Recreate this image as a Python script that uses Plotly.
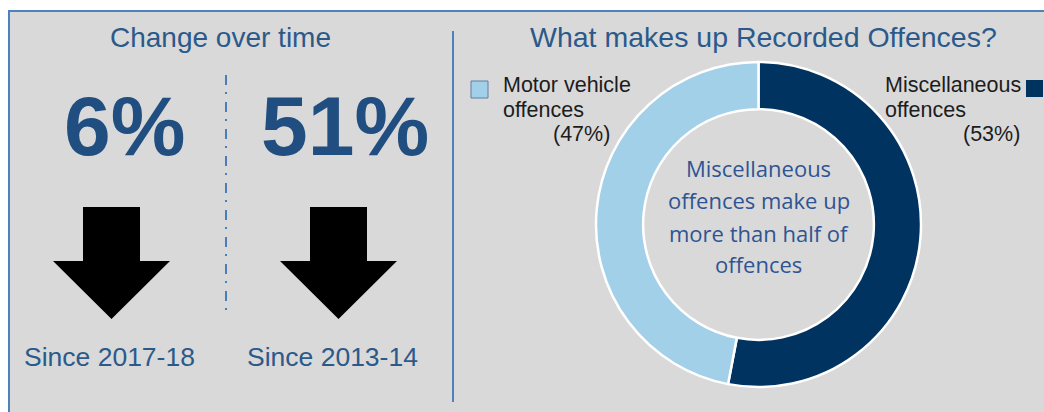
import plotly.graph_objects as go

# Change in recorded offences
change_values = [6, 51]
change_periods = ["Since 2017-18", "Since 2013-14"]

# Composition of recorded offences
offence_types = ["Miscellaneous offences", "Motor vehicle offences"]
offence_shares = [53, 47]
offence_colors = ["#00335f", "#a2d0e8"]

W, H = 1044, 412
PANEL_GREY = "#d9d9d9"
FRAME_BLUE = "#4f81bd"
TITLE_BLUE = "#2b5a8a"
NUMBER_BLUE = "#214e80"
CENTRE_BLUE = "#2f5493"
LABEL_INK = "#1c1c1c"
ARIAL = "Liberation Sans"


def centre_y(baseline, size, ascent=0.905, descent=0.212):
    """Middle of the text box for a given baseline (pixel rows grow downward)."""
    return baseline - (ascent - descent) / 2 * size


def down_arrow(cx, top, neck, tip, shaft_w, head_w):
    s, h = shaft_w / 2, head_w / 2
    return (f"M{cx - s},{top} L{cx + s},{top} L{cx + s},{neck} L{cx + h},{neck} "
            f"L{cx},{tip} L{cx - h},{neck} L{cx - s},{neck} Z")


fig = go.Figure()

# invisible trace anchoring the full-page pixel axes
fig.add_trace(go.Scatter(x=[], y=[], xaxis="x", yaxis="y", showlegend=False,
                         hoverinfo="skip"))

# donut of offence composition
fig.add_trace(go.Pie(
    labels=offence_types, values=offence_shares, sort=False,
    direction="clockwise", rotation=0, hole=0.71,
    marker=dict(colors=offence_colors, line=dict(color="white", width=2.5)),
    textinfo="none", showlegend=False,
    domain=dict(x=[595 / W, 922 / W], y=[(H - 387) / H, (H - 62) / H]),
))

shapes = [
    # panel with framed top and left edges
    dict(type="rect", xref="x", yref="y", x0=9, y0=11, x1=W + 20, y1=H + 20,
         fillcolor=PANEL_GREY, line=dict(color=FRAME_BLUE, width=2), layer="below"),
    # divider between the two halves
    dict(type="line", xref="x", yref="y", x0=453, x1=453, y0=31, y1=402,
         line=dict(color=FRAME_BLUE, width=2)),
    # dash-dot divider between the two changes
    dict(type="line", xref="x", yref="y", x0=226, x1=226, y0=75, y1=310,
         line=dict(color="#4a7ebb", width=2, dash="10px,7px,2px,8px")),
]

annotations = []


def text(x, y, s, size, color, family=ARIAL, xanchor="center", weight="normal"):
    annotations.append(dict(
        xref="x", yref="y", x=x, y=y, text=s, showarrow=False,
        xanchor=xanchor, yanchor="middle", borderpad=0,
        font=dict(family=family, size=size, color=color, weight=weight)))


# left half: change over time
text(220, centre_y(47, 28), "Change over time", 28, TITLE_BLUE)
number_x = [124.5, 345]
label_x = [109, 332]
for i, (v, period) in enumerate(zip(change_values, change_periods)):
    text(number_x[i], centre_y(155, 84), f"{v}%", 84, NUMBER_BLUE, weight="bold")
    text(label_x[i], centre_y(366, 26.5), period, 26.5, TITLE_BLUE)
    ax = [111.5, 338.5][i]
    shapes.append(dict(type="path", xref="x", yref="y",
                       path=down_arrow(ax, 207, 261, 319, 57, 117),
                       fillcolor="black", line=dict(width=0)))

# right half: composition
text(763, centre_y(47, 28.5), "What makes up Recorded Offences?", 28.5, TITLE_BLUE)

misc_share = offence_shares[0]
motor_share = offence_shares[1]

# motor vehicle key and label (left of the donut)
shapes.append(dict(type="rect", xref="x", yref="y", x0=471, x1=488, y0=81, y1=98,
                   fillcolor=offence_colors[1], line=dict(color="#5d7fa6", width=1)))
text(502, centre_y(92, 21.5), "Motor vehicle", 21.5, LABEL_INK, xanchor="left")
text(502, centre_y(117, 21.5), "offences", 21.5, LABEL_INK, xanchor="left")
text(552, centre_y(141, 21.5), f"({motor_share}%)", 21.5, LABEL_INK, xanchor="left")

# miscellaneous key and label (right of the donut)
shapes.append(dict(type="rect", xref="x", yref="y", x0=1026, x1=1043, y0=80, y1=97,
                   fillcolor=offence_colors[0], line=dict(width=0)))
text(884, centre_y(92, 21.5), "Miscellaneous", 21.5, LABEL_INK, xanchor="left")
text(884, centre_y(117, 21.5), "offences", 21.5, LABEL_INK, xanchor="left")
text(1021, centre_y(141, 21.5), f"({misc_share}%)", 21.5, LABEL_INK, xanchor="right")

# message in the donut hole
centre_lines = ["Miscellaneous", "offences make up", "more than half of", "offences"]
for line, base in zip(centre_lines, [177, 209, 242, 273]):
    text(758.5, centre_y(base, 22, 1.069, 0.293), line, 22, CENTRE_BLUE,
         family="Open Sans")

axis_common = dict(visible=False, showgrid=False, zeroline=False, fixedrange=True)
fig.update_layout(
    width=W, height=H,
    margin=dict(l=0, r=0, t=0, b=0),
    paper_bgcolor="white",
    plot_bgcolor="rgba(0,0,0,0)",
    xaxis=dict(range=[0, W], domain=[0, 1], **axis_common),
    yaxis=dict(range=[H, 0], domain=[0, 1], **axis_common),
    shapes=shapes,
    annotations=annotations,
    showlegend=False,
)

fig.write_html("out.html", config={"displayModeBar": False})
